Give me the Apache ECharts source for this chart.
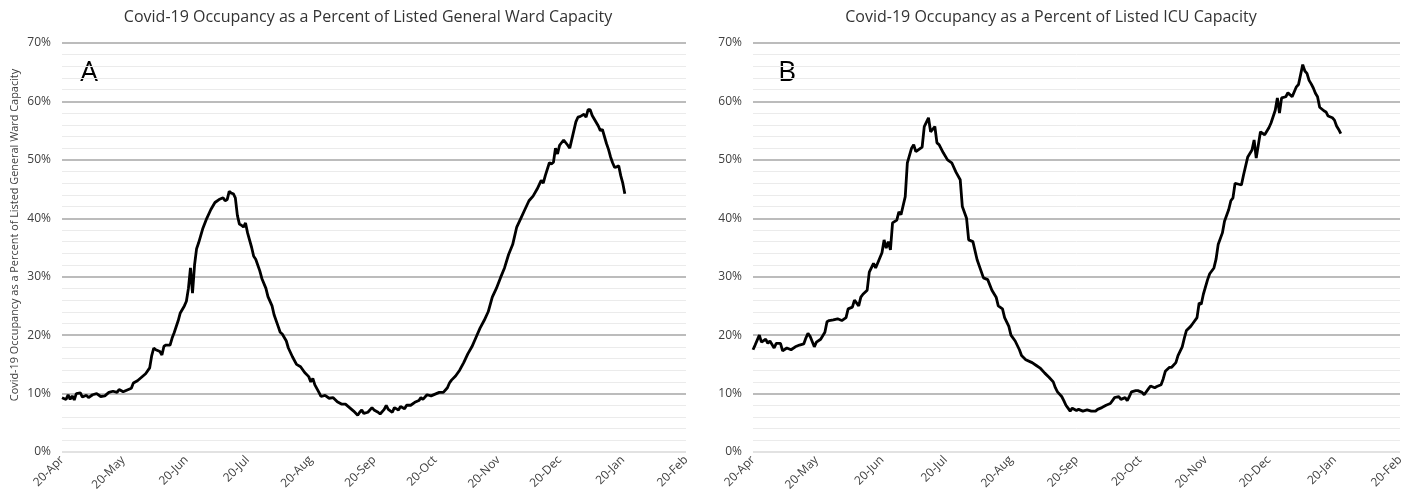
<!DOCTYPE html>
<html><head><meta charset="utf-8">
<script src="https://cdn.jsdelivr.net/npm/echarts@6/dist/echarts.min.js"></script>
<style>html,body{margin:0;padding:0;background:#fff}#c{width:1409px;height:500px}</style>
</head><body><div id="c"></div>
<script>
// x = days after 20-Apr-2020
const tickDays = [0, 30, 61, 91, 122, 153, 183, 214, 244, 275, 306];
const tickLabels = ['20-Apr','20-May','20-Jun','20-Jul','20-Aug','20-Sep','20-Oct','20-Nov','20-Dec','20-Jan','20-Feb'];
const yTicks = [0, 10, 20, 30, 40, 50, 60, 70];

const titleWard = 'Covid-19 Occupancy as a Percent of Listed General Ward Capacity';
const titleICU = 'Covid-19 Occupancy as a Percent of Listed ICU Capacity';
const yNameWard = 'Covid-19 Occupancy as a Percent of Listed General Ward Capacity';

// [day, percent]
const wardSeries = [
[0,9.3],[2,9.0],[3,9.8],[4,9.0],[5,9.6],[6,8.9],[7,10.0],[9,10.1],[10,9.4],[12,9.7],[13,9.3],[15,9.8],[17,10.0],[19,9.5],[21,9.6],[23,10.2],[25,10.4],[27,10.2],[28,10.7],[30,10.3],[32,10.6],[34,10.9],[35,11.8],[37,12.2],[39,12.8],[41,13.4],[43,14.4],[44,16.5],[45,17.8],[46,17.5],[48,17.2],[49,16.6],[50,18.1],[51,18.3],[53,18.3],[54,19.5],[55,20.4],[57,22.5],[58,23.8],[60,25.0],[61,25.8],[62,28.0],[63,31.5],[64,27.2],[65,32.0],[66,34.8],[67,35.8],[68,37.0],[69,38.2],[71,40.0],[73,41.5],[75,42.7],[77,43.2],[79,43.5],[80,43.0],[81,43.2],[82,44.6],[83,44.3],[84,44.2],[85,43.5],[86,40.5],[87,39.0],[88,38.8],[89,38.5],[90,39.2],[91,37.5],[93,35.0],[94,33.5],[95,33.0],[97,31.0],[98,29.7],[100,28.0],[101,26.6],[103,25.0],[104,23.5],[106,21.5],[107,20.5],[108,20.2],[110,19.0],[111,17.8],[113,16.3],[115,15.0],[117,14.6],[119,13.6],[121,12.9],[122,12.0],[123,12.6],[124,11.5],[126,10.2],[127,9.5],[129,9.7],[131,9.2],[133,9.3],[135,8.6],[137,8.2],[139,8.2],[141,7.6],[143,7.0],[145,6.3],[146,6.8],[147,7.2],[148,6.6],[150,6.8],[152,7.6],[153,7.2],[155,6.8],[156,6.5],[158,7.3],[159,8.0],[160,7.3],[162,6.8],[163,7.6],[165,7.2],[166,7.8],[168,7.4],[169,8.0],[171,8.0],[173,8.5],[175,8.8],[176,9.3],[177,9.0],[179,9.8],[181,9.6],[183,9.9],[185,10.2],[187,10.2],[189,11.0],[190,11.8],[191,12.3],[193,13.0],[195,14.0],[197,15.3],[199,16.8],[201,18.0],[203,19.6],[205,21.2],[207,22.5],[209,24.0],[211,26.5],[213,28.0],[215,29.8],[217,31.5],[219,33.8],[221,35.5],[223,38.5],[225,40.0],[227,41.5],[229,43.0],[231,43.8],[233,45.0],[235,46.5],[236,46.0],[237,47.3],[239,49.5],[240,49.3],[241,49.6],[242,52.0],[243,51.0],[244,52.5],[246,53.4],[248,52.5],[249,52.0],[250,53.5],[252,56.5],[253,57.3],[254,57.4],[256,57.8],[257,57.3],[258,58.6],[259,58.6],[260,57.6],[261,57.0],[262,56.4],[263,55.8],[264,55.0],[265,55.2],[266,54.0],[267,52.8],[268,51.8],[269,50.5],[270,49.5],[271,48.7],[272,48.8],[273,49.0],[274,47.3],[275,46.0],[276,44.2]
];

const icuSeries = [
[0,17.5],[1,18.3],[3,20.0],[4,18.8],[6,19.3],[7,18.6],[8,19.0],[10,17.8],[11,18.6],[13,18.6],[14,17.3],[16,17.8],[18,17.5],[20,18.0],[22,18.3],[24,18.5],[25,19.5],[26,20.3],[27,19.8],[29,18.0],[30,18.8],[32,19.3],[34,20.5],[35,22.3],[36,22.5],[38,22.6],[40,22.8],[42,22.5],[44,23.0],[45,24.5],[47,24.8],[48,26.0],[50,25.0],[51,26.5],[52,27.0],[54,27.7],[55,30.8],[57,32.3],[58,31.5],[61,34.1],[62,36.3],[63,34.9],[64,36.0],[65,34.6],[66,39.2],[68,39.7],[69,41.1],[70,40.6],[72,43.7],[73,49.5],[75,52.0],[76,52.6],[77,51.4],[80,52.2],[81,55.7],[83,57.2],[84,54.8],[86,55.7],[87,52.9],[88,52.6],[90,51.2],[92,50.0],[94,49.5],[96,47.9],[98,46.6],[99,42.0],[101,40.0],[102,36.3],[104,36.0],[106,32.9],[109,29.8],[111,29.5],[113,27.7],[115,26.5],[116,25.0],[118,24.5],[119,23.0],[121,21.5],[122,20.0],[124,19.0],[126,17.5],[127,16.5],[129,15.8],[132,15.3],[134,14.8],[136,14.3],[138,13.5],[140,12.8],[142,12.0],[143,11.0],[144,10.3],[146,9.5],[147,8.8],[148,8.0],[149,7.5],[150,7.0],[151,7.5],[153,7.1],[154,7.3],[156,7.0],[158,7.2],[160,7.0],[162,7.0],[163,7.3],[165,7.6],[167,8.0],[169,8.3],[170,8.8],[171,9.3],[173,9.5],[174,9.0],[176,9.3],[177,8.8],[178,9.5],[179,10.3],[181,10.5],[182,10.5],[184,10.2],[185,9.8],[187,10.8],[188,11.3],[190,11.0],[191,11.2],[193,11.5],[194,12.5],[195,13.8],[197,14.5],[198,14.5],[200,15.3],[201,16.5],[203,18.0],[204,19.5],[205,20.8],[207,21.5],[208,22.0],[210,23.0],[211,25.5],[212,25.3],[213,27.0],[215,29.5],[216,30.5],[218,31.5],[219,33.0],[220,35.5],[222,37.5],[223,39.5],[225,41.5],[226,43.0],[227,43.5],[228,46.0],[231,45.7],[232,47.4],[234,50.5],[236,51.7],[237,53.4],[238,50.3],[240,54.8],[242,54.3],[244,55.5],[245,56.3],[247,58.5],[248,60.6],[249,58.0],[250,60.6],[252,60.8],[253,61.5],[255,60.8],[257,62.5],[258,62.9],[260,66.3],[261,65.2],[262,64.8],[263,63.6],[264,63.0],[265,62.3],[266,61.4],[267,60.8],[268,59.0],[269,58.7],[270,58.4],[271,58.2],[272,57.5],[274,57.2],[275,56.8],[276,55.8],[277,55.2],[278,54.5]
];

const FONT = '"Open Sans", Lato, sans-serif';
const gridColors = yTicks.map((v, i) => i === 0 ? '#d9d9d9' : '#a6a6a6');

function xAxisFor(i) {
  return {
    type: 'value', gridIndex: i, min: tickDays[0], max: tickDays[tickDays.length - 1],
    splitLine: { show: false }, axisLine: { show: false }, axisTick: { show: false },
    axisLabel: {
      customValues: tickDays,
      formatter: v => tickLabels[tickDays.indexOf(v)],
      rotate: 45, fontSize: 12, color: '#404040', margin: 6, fontFamily: FONT
    }
  };
}
function yAxisFor(i) {
  return {
    type: 'value', gridIndex: i, min: yTicks[0], max: yTicks[yTicks.length - 1], interval: 10,
    axisLine: { show: false }, axisTick: { show: false },
    axisLabel: { formatter: '{value}%', fontSize: 12, color: '#404040', margin: 11, fontFamily: FONT },
    splitLine: { lineStyle: { color: gridColors, width: 1.5 } },
    minorTick: { show: false, splitNumber: 5 },
    minorSplitLine: { show: true, lineStyle: { color: '#ebebeb', width: 1 } }
  };
}

const chart = echarts.init(document.getElementById('c'), null, { renderer: 'canvas' });
chart.setOption({
  animation: false,
  backgroundColor: '#fff',
  grid: [
    { left: 62, right: 1409 - 686, top: 43, bottom: 48 },
    { left: 753, right: 9, top: 43, bottom: 48 }
  ],
  xAxis: [xAxisFor(0), xAxisFor(1)],
  yAxis: [yAxisFor(0), yAxisFor(1)],
  graphic: [
    { type: 'text', x: 368, y: 17, style: { text: titleWard, align: 'center', verticalAlign: 'middle', font: '16px ' + FONT, fill: '#333' } },
    { type: 'text', x: 1051, y: 17, style: { text: titleICU, align: 'center', verticalAlign: 'middle', font: '16px ' + FONT, fill: '#333' } },
    { type: 'text', x: 15, y: 235, rotation: Math.PI / 2, style: { text: yNameWard, align: 'center', verticalAlign: 'middle', font: '10.9px ' + FONT, fill: '#404040' } },
    { type: 'text', x: 89, y: 73, style: { text: 'A', align: 'center', verticalAlign: 'middle', font: '28px ' + FONT, fill: '#000' } },
    { type: 'text', x: 787, y: 73, style: { text: 'B', align: 'center', verticalAlign: 'middle', font: '28px ' + FONT, fill: '#000' } }
  ],
  series: [
    { type: 'line', xAxisIndex: 0, yAxisIndex: 0, data: wardSeries, showSymbol: false, lineStyle: { color: '#000', width: 2.8 } },
    { type: 'line', xAxisIndex: 1, yAxisIndex: 1, data: icuSeries, showSymbol: false, lineStyle: { color: '#000', width: 2.8 } }
  ]
});
</script>
</body></html>
